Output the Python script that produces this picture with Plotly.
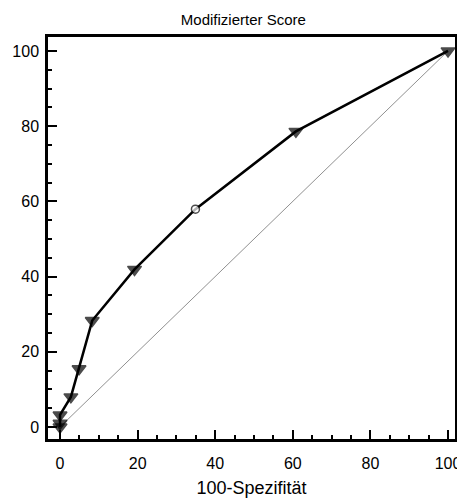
import plotly.graph_objects as go

fpr = [0, 0, 0, 2.8, 4.9, 8.3, 19.2, 34.9, 60.8, 100]
tpr = [0, 1, 3.2, 8.0, 15.5, 28.3, 41.9, 57.9, 78.6, 100]
symbols = ["triangle-down"] * 7 + ["circle"] + ["triangle-down"] * 2
fills = ["black"] * 7 + ["white"] + ["black"] * 2
sizes = [12] * 7 + [8] + [12] * 2
diag_x = [0, 100]
diag_y = [0, 100]
x_ticks = [0, 20, 40, 60, 80, 100]
y_ticks = [0, 20, 40, 60, 80, 100]

fig = go.Figure()
fig.add_trace(go.Scatter(x=diag_x, y=diag_y, mode="lines",
                         line=dict(color="#444444", width=0.6), showlegend=False))
fig.add_trace(go.Scatter(x=fpr, y=tpr, mode="lines+markers",
                         line=dict(color="black", width=2.5),
                         marker=dict(symbol=symbols, size=sizes, color=fills,
                                     line=dict(color="black", width=1.5)),
                         showlegend=False))

axis_common = dict(
    showgrid=False, zeroline=False, showline=True, linecolor="black", linewidth=2.5,
    mirror=True, ticks="inside", ticklen=9, tickwidth=2, tickcolor="black",
    tickfont=dict(size=16, color="black"),
    minor=dict(ticks="inside", ticklen=4, tickwidth=1.5, tickcolor="black", dtick=5),
)

# page body has an 8px default margin, so the figure is sized to fit after that offset
fig.update_layout(
    width=457, height=492,
    margin=dict(l=39, r=4, t=29, b=57),
    paper_bgcolor="white", plot_bgcolor="white",
    font=dict(family="Liberation Sans, Arial, sans-serif", size=16, color="black"),
    title=dict(text="Modifizierter Score", x=0.515, xanchor="center", y=0.976, yanchor="middle",
               font=dict(size=15)),
    xaxis=dict(range=[-3.1, 101.8], tickvals=x_ticks, ticklabelstandoff=8,
               title=dict(text="100-Spezifität", standoff=11, font=dict(size=18)), **axis_common),
    yaxis=dict(range=[-3.2, 103.7], tickvals=y_ticks, ticklabelstandoff=3, **axis_common),
)

fig.write_html("out.html")
